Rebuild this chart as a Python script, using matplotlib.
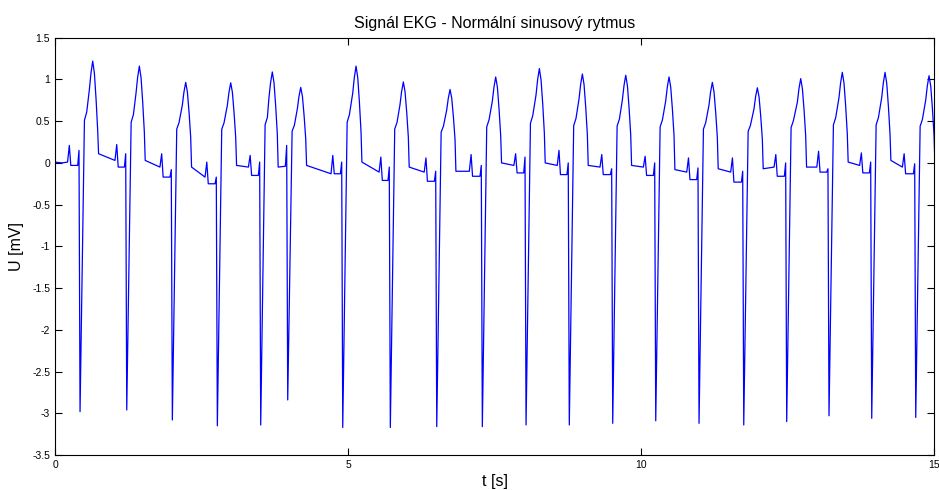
import numpy as np
import matplotlib.pyplot as plt

plt.rcParams['font.family'] = ['Liberation Sans', 'DejaVu Sans']

# hodnoty (jeden prvek = jeden stah)
s_t = [0.427, 1.224, 2.002, 2.770, 3.510, 3.971, 4.910, 5.722, 6.514, 7.292,
       8.038, 8.776, 9.517, 10.251, 10.990, 11.753, 12.486, 13.208, 13.937, 14.688]
s_v = [-2.98, -2.96, -3.08, -3.15, -3.14, -2.84, -3.17, -3.17, -3.16, -3.16,
       -3.14, -3.14, -3.12, -3.09, -3.12, -3.14, -3.10, -3.03, -3.06, -3.05]
t_t = [0.643, 1.439, 2.230, 2.998, 3.708, 4.193, 5.137, 5.944, 6.741, 7.520,
       8.265, 8.999, 9.739, 10.478, 11.217, 11.985, 12.725, 13.435, 14.164, 14.915]
t_v = [1.22, 1.16, 0.965, 0.96, 1.09, 0.905, 1.16, 0.97, 0.88, 1.03,
       1.13, 1.065, 1.05, 1.03, 0.965, 0.90, 1.01, 1.085, 1.085, 1.045]
# P vlna (6. stah ji nema, je schovana v T predchoziho)
p_t = [0.244, 1.053, 1.820, 2.590, 3.330, np.nan, 4.740, 5.560, 6.330, 7.100,
       7.860, 8.600, 9.330, 10.070, 10.810, 11.560, 12.300, 13.030, 13.760, 14.490]
p_v = [0.21, 0.22, 0.11, 0.01, 0.09, np.nan, 0.09, 0.07, 0.06, 0.10,
       0.11, 0.15, 0.10, 0.08, 0.06, 0.06, 0.10, 0.14, 0.12, 0.11]
pre_v = [0.01, 0.03, -0.05, -0.17, -0.05, np.nan, -0.13, -0.11, -0.11, -0.10,
         -0.03, -0.03, -0.05, -0.05, -0.11, -0.11, -0.05, -0.05, -0.03, -0.05]
pq_v = [-0.03, -0.05, -0.17, -0.25, -0.15, -0.04, -0.13, -0.21, -0.22, -0.16,
        -0.12, -0.14, -0.14, -0.15, -0.20, -0.23, -0.16, -0.11, -0.12, -0.13]
r_v = [0.15, 0.11, -0.08, -0.17, 0.01, 0.21, 0.01, -0.05, -0.10, -0.03,
       0.07, 0.00, -0.07, 0.00, -0.06, -0.10, 0.00, -0.07, 0.01, -0.01]
st_v = [0.11, 0.03, -0.05, -0.03, -0.05, -0.03, 0.01, -0.05, -0.10, 0.00,
        0.00, -0.03, -0.03, -0.08, -0.07, -0.07, -0.05, 0.01, 0.03, 0.00]
start_v = [0.01, 0.00]

# tvar T vlny podle 1. stahu: (posun v s, podil vrcholu)
t_rise = [(0.075, 0.42), (0.114, 0.50)]        # od S
t_top = [(-0.057, 0.72), (-0.03, 0.88)]        # pred vrcholem T
t_fall = [(0.029, 0.88), (0.058, 0.62), (0.085, 0.32)]  # po vrcholu T

xticks = [0, 5, 10, 15]
yticks = [-3.5, -3, -2.5, -2, -1.5, -1, -0.5, 0, 0.5, 1, 1.5]

tt = [0.0, 0.12]
uu = list(start_v)
for i in range(len(s_t)):
    if not np.isnan(p_t[i]):
        tt += [p_t[i] - 0.03, p_t[i], p_t[i] + 0.025]
        uu += [pre_v[i], p_v[i], pq_v[i]]
    tt += [s_t[i] - 0.04, s_t[i] - 0.018, s_t[i]]
    uu += [pq_v[i], r_v[i], s_v[i]]
    for dt, f in t_rise:
        tt.append(s_t[i] + dt)
        uu.append(f * t_v[i])
    for dt, f in t_top:
        tt.append(t_t[i] + dt)
        uu.append(f * t_v[i])
    tt.append(t_t[i])
    uu.append(t_v[i])
    for dt, f in t_fall:
        tt.append(t_t[i] + dt)
        uu.append(f * t_v[i])
    tt.append(t_t[i] + 0.1)
    uu.append(st_v[i])

fig = plt.figure(figsize=(9.39, 4.9), dpi=100)
ax = fig.add_axes([0.0586, 0.0714, 0.9361, 0.8516])
ax.plot(tt, uu, color='#0000ff', lw=0.9)
ax.set_xlim(0, 15)
ax.set_ylim(-3.5, 1.5)
ax.set_xticks(xticks)
ax.set_xticklabels(['%g' % v for v in xticks])
ax.set_yticks(yticks)
ax.set_yticklabels(['%g' % v for v in yticks])
ax.tick_params(direction='in', top=True, right=True, labelsize=7.5, length=5)
ax.set_title('Signál EKG - Normální sinusový rytmus', fontsize=11.5, pad=7)
ax.set_xlabel('t [s]', fontsize=11.5, labelpad=3)
ax.set_ylabel('U [mV]', fontsize=11.5, labelpad=6)

fig.savefig('out.png', dpi=100)
